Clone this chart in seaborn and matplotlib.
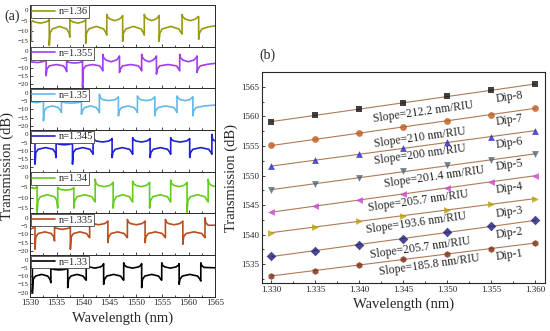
import matplotlib
matplotlib.use("Agg")
import matplotlib.pyplot as plt
import seaborn as sns
from matplotlib.ticker import MultipleLocator

# ---- (a) transmission spectra: (wavelength nm, dB)
spec_136 = [(1530.0,-11),(1530.2,-15),(1530.2,-5.5),(1530.35,-5),(1530.8,-5.6),(1531.9,-6.2),(1533.0,-5.6),(1533.45,-5),(1533.6,-4.5),
    (1533.6,-17),(1533.75,-11),(1534.2,-9),(1535.55,-7.8),(1536.9,-9),(1537.35,-11),(1537.5,-13),
    (1537.5,-4.5),(1537.65,-5),(1538.1,-5.6),(1539.0,-6.2),(1539.9,-5.6),(1540.35,-5),(1540.5,-4.5),
    (1540.5,-16),(1540.65,-11),(1541.1,-9),(1542.5,-7.8),(1543.9,-9),(1544.35,-11),(1544.5,-12),
    (1544.5,-2),(1544.65,-3.2),(1545.1,-4.2),(1546.0,-5),(1546.9,-4.2),(1547.35,-3.2),(1547.5,-2.5),
    (1547.5,-15),(1547.65,-11),(1548.1,-9),(1549.55,-7.8),(1551.0,-9),(1551.45,-11),(1551.6,-12),
    (1551.6,-2),(1551.75,-3.2),(1552.2,-4.2),(1553.0,-5),(1553.8,-4.2),(1554.25,-3.2),(1554.4,-2.5),
    (1554.4,-15),(1554.55,-11),(1555.0,-9),(1556.6,-7.8),(1558.15,-9),(1558.6,-11),(1558.75,-11.5),
    (1558.75,-2),(1558.9,-3.2),(1559.35,-4.2),(1560.3,-5),(1561.3,-4.2),(1561.75,-3.2),(1561.9,-3),
    (1561.9,-14),(1562.05,-11),(1562.5,-9),(1563.8,-8),(1565.0,-7.5)]

spec_1355 = [(1530.0,-6.5),(1531.5,-7),(1532.55,-6.3),(1532.85,-5.5),(1533.0,-5),
    (1533.0,-15),(1533.15,-11),(1533.6,-9),(1534.95,-8.2),(1536.3,-9),(1536.75,-11),(1536.9,-12.5),
    (1536.9,-6),(1537.05,-6.5),(1537.5,-7),(1538.4,-7.3),(1539.3,-7),(1539.75,-6.5),(1539.9,-6),
    (1539.9,-22),(1540.05,-11),(1540.5,-9),(1541.8,-8.2),(1543.15,-9),(1543.6,-11),(1543.75,-12),
    (1543.75,-2),(1543.9,-4),(1544.35,-5.5),(1545.3,-6.5),(1546.3,-5.5),(1546.75,-4),(1546.9,-3),
    (1546.9,-13),(1547.05,-11),(1547.5,-9),(1549.0,-8.2),(1550.5,-9),(1550.95,-11),(1551.1,-12),
    (1551.1,-2),(1551.25,-4),(1551.7,-5.5),(1552.5,-6.5),(1553.3,-5.5),(1553.75,-4),(1553.9,-3),
    (1553.9,-14),(1554.05,-11),(1554.5,-9),(1556.1,-8.2),(1557.7,-9),(1558.15,-11),(1558.3,-12),
    (1558.3,-2),(1558.45,-4),(1558.9,-5.5),(1559.95,-6.5),(1561.0,-5.5),(1561.45,-4),(1561.6,-3),
    (1561.6,-13),(1561.75,-11),(1562.2,-9),(1563.6,-8),(1565.0,-7.5)]

spec_135 = [(1530.0,-5.5),(1531.3,-6),(1532.0,-5.5),(1532.35,-4.8),(1532.5,-4.5),
    (1532.5,-17),(1532.65,-11),(1533.1,-9),(1534.2,-8),(1535.3,-9),(1535.75,-11),(1535.9,-12),
    (1535.9,-5),(1536.05,-5.5),(1536.5,-6),(1537.8,-6.3),(1539.1,-6),(1539.55,-5.5),(1539.7,-5),
    (1539.7,-13),(1539.85,-11),(1540.3,-9),(1541.4,-8),(1542.5,-9),(1542.95,-11),(1543.1,-12),
    (1543.1,-1),(1543.25,-3),(1543.7,-4.2),(1544.9,-4.8),(1546.1,-4.2),(1546.55,-3),(1546.7,-2.5),
    (1546.7,-14),(1546.85,-11),(1547.3,-9),(1548.5,-8),(1549.7,-9),(1550.15,-11),(1550.3,-12),
    (1550.3,-2),(1550.45,-3),(1550.9,-4.2),(1551.95,-4.8),(1553.0,-4.2),(1553.45,-3),(1553.6,-2.5),
    (1553.6,-14),(1553.75,-11),(1554.2,-9),(1555.7,-8),(1557.2,-9),(1557.65,-11),(1557.8,-12),
    (1557.8,-2),(1557.95,-3),(1558.4,-4.2),(1559.3,-4.8),(1560.2,-4.2),(1560.65,-3),(1560.8,-2.5),
    (1560.8,-14),(1560.95,-11),(1561.4,-9),(1563.0,-8),(1565.0,-7.5)]

spec_1345 = [(1530.0,-5.5),(1530.6,-5),(1530.9,-4.5),
    (1530.9,-18),(1531.05,-11),(1531.5,-9),(1532.9,-8),(1534.3,-9),(1534.75,-11),(1534.9,-14),
    (1534.9,-5),(1535.05,-5.5),(1535.5,-6),(1536.45,-6.3),(1537.4,-6),(1537.85,-5.5),(1538.0,-5),
    (1538.0,-18),(1538.15,-11),(1538.6,-9),(1539.95,-8),(1541.3,-9),(1541.75,-11),(1541.9,-12),
    (1541.9,0),(1542.05,-3),(1542.5,-4),(1543.7,-4.6),(1544.9,-4),(1545.35,-3),(1545.5,-2.5),
    (1545.5,-14),(1545.65,-11),(1546.1,-9),(1547.45,-8),(1548.8,-9),(1549.25,-11),(1549.4,-12),
    (1549.4,-2),(1549.55,-3),(1550.0,-4),(1551.05,-4.6),(1552.1,-4),(1552.55,-3),(1552.7,-2.5),
    (1552.7,-14),(1552.85,-11),(1553.3,-9),(1554.65,-8),(1556.0,-9),(1556.45,-11),(1556.6,-12),
    (1556.6,-2),(1556.75,-3),(1557.2,-4),(1558.4,-4.6),(1559.6,-4),(1560.05,-3),(1560.2,-2.5),
    (1560.2,-14),(1560.35,-11),(1560.8,-9),(1562.3,-8),(1563.8,-9),(1564.25,-11),(1564.4,-12),
    (1564.4,0),(1564.55,-3),(1565.0,-4)]

spec_134 = [(1530.0,-5),(1530.8,-5.5),(1531.15,-5),(1531.3,-4.5),
    (1531.3,-17),(1531.45,-11.5),(1531.9,-9.5),(1533.25,-8.5),(1534.6,-9.5),(1535.05,-11.5),(1535.2,-15),
    (1535.2,-5),(1535.35,-5.5),(1535.8,-6),(1536.7,-6.3),(1537.65,-6),(1538.1,-5.5),(1538.25,-5),
    (1538.25,-15),(1538.4,-11.5),(1538.85,-9.5),(1540.3,-8.5),(1541.7,-9.5),(1542.15,-11.5),(1542.3,-12),
    (1542.3,-1),(1542.45,-3),(1542.9,-4),(1544.0,-4.6),(1545.1,-4),(1545.55,-3),(1545.7,-2.5),
    (1545.7,-15),(1545.85,-11.5),(1546.3,-9.5),(1547.55,-8.5),(1548.8,-9.5),(1549.25,-11.5),(1549.4,-12),
    (1549.4,-2),(1549.55,-3),(1550.0,-4),(1551.0,-4.6),(1552.0,-4),(1552.45,-3),(1552.6,-2.5),
    (1552.6,-15),(1552.75,-11.5),(1553.2,-9.5),(1554.6,-8.5),(1556.0,-9.5),(1556.45,-11.5),(1556.6,-12),
    (1556.6,-1.5),(1556.75,-3),(1557.2,-4),(1558.15,-4.6),(1559.1,-4),(1559.55,-3),(1559.7,-2.5),
    (1559.7,-17),(1559.85,-11.5),(1560.3,-9.5),(1561.7,-8.5),(1563.1,-9.5),(1563.55,-11.5),(1563.7,-12),
    (1563.7,-1),(1563.85,-3),(1564.3,-4),(1565.0,-4.5)]

spec_1335 = [(1530.0,-7),(1530.6,-6),(1530.9,-5.5),
    (1530.9,-19),(1531.05,-11.5),(1531.5,-9.5),(1532.75,-8.5),(1534.0,-9.5),(1534.45,-11.5),(1534.6,-14),
    (1534.6,-5.5),(1534.75,-6),(1535.2,-6.5),(1536.1,-7),(1537.0,-6.5),(1537.45,-6),(1537.6,-5.5),
    (1537.6,-19),(1537.75,-11.5),(1538.2,-9.5),(1539.4,-8.5),(1540.65,-9.5),(1541.1,-11.5),(1541.25,-12),
    (1541.25,0),(1541.4,-2.5),(1541.85,-3.5),(1542.95,-4.2),(1544.1,-3.5),(1544.55,-2.5),(1544.7,-2),
    (1544.7,-15),(1544.85,-11.5),(1545.3,-9.5),(1546.55,-8.5),(1547.8,-9.5),(1548.25,-11.5),(1548.4,-12),
    (1548.4,-1),(1548.55,-2.5),(1549.0,-3.5),(1550.1,-4.2),(1551.15,-3.5),(1551.6,-2.5),(1551.75,-2),
    (1551.75,-15),(1551.9,-11.5),(1552.35,-9.5),(1553.7,-8.5),(1555.0,-9.5),(1555.45,-11.5),(1555.6,-12),
    (1555.6,-1),(1555.75,-2.5),(1556.2,-3.5),(1557.25,-4.2),(1558.3,-3.5),(1558.75,-2.5),(1558.9,-2),
    (1558.9,-16),(1559.05,-11.5),(1559.5,-9.5),(1561.0,-8.5),(1562.5,-9.5),(1562.95,-11.5),(1563.1,-12),
    (1563.1,0),(1563.25,-3),(1563.7,-4.5),(1565.0,-4.5)]

spec_133 = [(1530.0,-5),(1530.25,-4.8),(1530.4,-5),
    (1530.4,-20),(1530.55,-12),(1531.0,-10),(1532.15,-9),(1533.3,-10),(1533.75,-12),(1533.9,-14),
    (1533.9,-5),(1534.05,-5.5),(1534.5,-6),(1535.5,-6.3),(1536.5,-6),(1536.95,-5.5),(1537.1,-5),
    (1537.1,-17),(1537.25,-12),(1537.7,-10),(1538.85,-9),(1540.0,-10),(1540.45,-12),(1540.6,-12.5),
    (1540.6,-2),(1540.75,-3.5),(1541.2,-4.5),(1542.25,-5.2),(1543.3,-4.5),(1543.75,-3.5),(1543.9,-2.5),
    (1543.9,-15),(1544.05,-12),(1544.5,-10),(1545.8,-9),(1547.1,-10),(1547.55,-12),(1547.7,-12.5),
    (1547.7,-2),(1547.85,-3.5),(1548.3,-4.5),(1549.4,-5.2),(1550.5,-4.5),(1550.95,-3.5),(1551.1,-2.5),
    (1551.1,-17),(1551.25,-12),(1551.7,-10),(1553.0,-9),(1554.3,-10),(1554.75,-12),(1554.9,-12.5),
    (1554.9,-2),(1555.05,-3.5),(1555.5,-4.5),(1556.55,-5.2),(1557.6,-4.5),(1558.05,-3.5),(1558.2,-2.5),
    (1558.2,-15),(1558.35,-12),(1558.8,-10),(1560.25,-9),(1561.7,-10),(1562.15,-12),(1562.3,-13),
    (1562.3,-2),(1562.45,-3.5),(1562.9,-4.8),(1565.0,-5)]

spectra = [spec_136, spec_1355, spec_135, spec_1345, spec_134, spec_1335, spec_133]
spec_labels = ["n=1.36", "n=1.355", "n=1.35", "n=1.345", "n=1.34", "n=1.335", "n=1.33"]
spec_colors = ["#9a9a12", "#a33cf0", "#66b8e6", "#1f1fd6", "#66cc1a", "#b5501e", "#000000"]
spec_lowtick = [-15, -20, -20, -20, -15, -20, -20]

# ---- (b) dip wavelength vs refractive index
ri = [1.330, 1.335, 1.340, 1.345, 1.350, 1.355, 1.360]
dip1 = [1533.0, 1533.9, 1534.9, 1535.8, 1536.7, 1537.6, 1538.6]
dip2 = [1536.3, 1537.3, 1538.3, 1539.3, 1540.4, 1541.4, 1542.4]
dip3 = [1540.3, 1541.3, 1542.3, 1543.2, 1544.2, 1545.1, 1546.1]
dip4 = [1543.8, 1544.8, 1545.9, 1546.9, 1547.9, 1548.9, 1550.0]
dip5 = [1547.6, 1548.6, 1549.6, 1550.7, 1551.7, 1552.7, 1553.6]
dip6 = [1551.6, 1552.6, 1553.6, 1554.6, 1555.6, 1556.6, 1557.6]
dip7 = [1555.1, 1556.1, 1557.2, 1558.2, 1559.3, 1560.3, 1561.4]
dip8 = [1559.1, 1560.2, 1561.3, 1562.3, 1563.4, 1564.4, 1565.5]
dips = [dip1, dip2, dip3, dip4, dip5, dip6, dip7, dip8]
dip_names = ["Dip-1", "Dip-2", "Dip-3", "Dip-4", "Dip-5", "Dip-6", "Dip-7", "Dip-8"]
slopes = ["185.8", "205.7", "193.6", "205.7", "201.4", "200", "210", "212.2"]
dip_markers = ["h", "D", ">", "<", "v", "^", "o", "s"]
dip_colors = ["#7a2a10", "#1a1a78", "#b8a000", "#cc44d0", "#4a6478", "#2424cc", "#c05a1a", "#111111"]
# label anchor positions (RI, nm)
slope_pos = [(1.3480, 1534.8), (1.3469, 1537.7), (1.3465, 1542.0), (1.3467, 1545.7),
             (1.3485, 1549.7), (1.3469, 1553.5), (1.3469, 1556.5), (1.3473, 1560.8)]
name_pos = [(1.3571, 1536.5), (1.3571, 1540.3), (1.3571, 1543.8), (1.3571, 1547.9),
            (1.3571, 1551.8), (1.3571, 1555.5), (1.3571, 1559.4), (1.3571, 1563.3)]

sns.set_style("ticks", {"xtick.direction": "in", "ytick.direction": "in"})
plt.rcParams["font.family"] = ["Liberation Serif", "DejaVu Serif"]

fig = plt.figure(figsize=(5.5, 3.31), dpi=100)

# left stack of spectra
left, right, bottom, top = 0.055, 0.391, 0.103, 0.985
h = (top - bottom) / len(spectra)
axes_a = []
for i, (pts, lab, col, lowt) in enumerate(zip(spectra, spec_labels, spec_colors, spec_lowtick)):
    ax = fig.add_axes([left, top - (i + 1) * h, right - left, h])
    xs = [p[0] for p in pts]
    ys = [p[1] for p in pts]
    sns.lineplot(x=xs, y=ys, sort=False, estimator=None, color=col, lw=1.2, label=lab, ax=ax)
    ax.set_xlim(1530, 1565)
    ax.set_ylim(lowt - 2.6, 2.6)
    ax.xaxis.set_major_locator(MultipleLocator(5))
    ax.xaxis.set_minor_locator(MultipleLocator(2.5))
    ax.yaxis.set_major_locator(MultipleLocator(5))
    ax.tick_params(which="both", direction="in", top=False, right=False, labelsize=5,
                   length=2.5, width=0.6, pad=1.5)
    ax.tick_params(axis="x", labelsize=6.5)
    ax.tick_params(which="minor", length=1.5)
    for s in ax.spines.values():
        s.set_linewidth(0.7)
    leg = ax.legend(loc="upper left", fontsize=7.5, frameon=True, fancybox=False,
                    borderpad=0.15, handlelength=2.2, handletextpad=0.3,
                    borderaxespad=0.05, framealpha=1)
    leg.get_frame().set_edgecolor("#444444")
    leg.get_frame().set_linewidth(0.6)
    if i < len(spectra) - 1:
        ax.tick_params(labelbottom=False)
    ax.set_xlabel("")
    axes_a.append(ax)

axes_a[-1].set_xlabel("Wavelength (nm)", fontsize=10.5, labelpad=3)
fig.text(0.014, 0.50, "Transmission (dB)", rotation=90, va="center", ha="center", fontsize=10.5)
fig.text(0.022, 0.95, "(a)", fontsize=10, ha="center", va="center")

# right panel: dip shift vs refractive index
axb = fig.add_axes([0.476, 0.145, 0.515, 0.637])
for d, mk, col in zip(dips, dip_markers, dip_colors):
    sns.regplot(x=ri, y=d, ci=None, marker=mk, ax=axb, truncate=True,
                scatter_kws=dict(color=col, s=24, linewidths=0, zorder=3),
                line_kws=dict(color="#b07a55", lw=0.8, zorder=1))
for (sx, sy), sl in zip(slope_pos, slopes):
    axb.text(sx, sy, f"Slope={sl} nm/RIU", fontsize=8.5, rotation=8, ha="center", va="center")
for (nx, ny), nm in zip(name_pos, dip_names):
    axb.text(nx, ny, nm, fontsize=8.5, rotation=8, ha="center", va="center")
axb.set_xlim(1.3289, 1.3611)
axb.set_ylim(1531.8, 1567.5)
axb.xaxis.set_major_locator(MultipleLocator(0.005))
axb.xaxis.set_minor_locator(MultipleLocator(0.0025))
axb.yaxis.set_major_locator(MultipleLocator(5))
axb.yaxis.set_minor_locator(MultipleLocator(2.5))
axb.xaxis.set_major_formatter(plt.FormatStrFormatter("%.3f"))
axb.tick_params(which="both", direction="in", labelsize=6.5, length=2.5, width=0.6, pad=2)
axb.tick_params(which="minor", length=1.5)
for s in axb.spines.values():
    s.set_linewidth(0.8)
axb.set_xlabel("Wavelength (nm)", fontsize=10.5, labelpad=3)
axb.set_ylabel("Transmission (dB)", fontsize=10.5, labelpad=2)
fig.text(0.486, 0.834, "(b)", fontsize=10, ha="center", va="center")

fig.savefig("out.png", dpi=100)
